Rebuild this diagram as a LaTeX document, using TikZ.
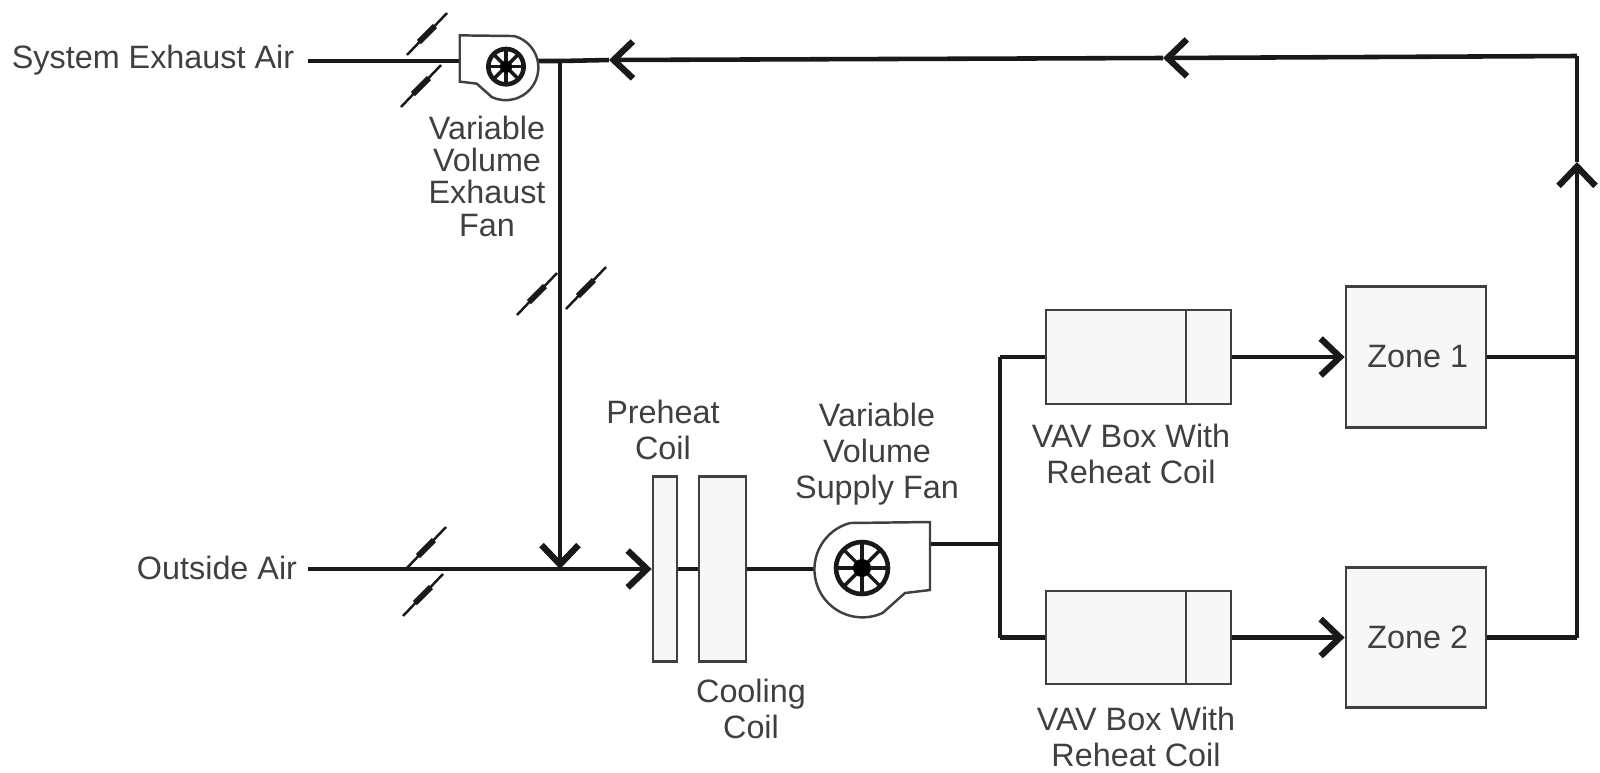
\documentclass[tikz,border=0pt]{standalone}
\usepackage{fontspec}
\setmainfont{Liberation Sans}
\usetikzlibrary{arrows.meta}
\tikzset{
    duct/.style={line width=1.3pt,black!90},
    flow/.style={duct,-{Straight Barb[length=5.5pt,width=10.5pt,line width=1.8pt]}},
    label/.style={font=\fontsize{9.2}{9.2}\selectfont,align=center,text=black!75,inner sep=0pt},
    unit/.style={draw=black!75,line width=0.8pt,fill=black!3,inner sep=0pt,label},
    pics/blade/.style={code={
        \draw[black!90,line width=0.7pt] (-20,21) -- (20,-21);
        \draw[black!90,line width=1.7pt] (-8,8) -- (8,-8);
    }},
    pics/fan/.style={code={
        \draw[black!75,line width=0.7pt,fill=white] (68,-48) -- (-12,-47) arc[start angle=255,end angle=65,radius=48] -- (43,23) -- (68,20) -- cycle;
        \draw[black!90,line width=1.3pt] (0,-2) circle (26);
        \foreach \a in {0,45,...,315}
            \draw[black!90,line width=1pt] (0,-2) -- ++(\a:26);
        \fill[black] (0,-2) circle (9);
    }},
}
\begin{document}
\begin{tikzpicture}[x=0.01cm,y=-0.01cm]
    \useasboundingbox (0,0) rectangle (1600,772);
    \coordinate (exhaustend) at (308,61);
    \coordinate (exhaustfanin) at (460,61);
    \coordinate (exhaustfanout) at (538,61);
    \coordinate (tee) at (560,61);
    \coordinate (returnarrow) at (609,60);
    \coordinate (topreturn) at (1163,58);
    \coordinate (corner) at (1577,56);
    \coordinate (riser) at (1577,162);
    \coordinate (zoneonejoin) at (1577,357);
    \coordinate (zonetwojoin) at (1577,637.5);
    \coordinate (outsideend) at (308,569);
    \coordinate (mixing) at (560,569);
    \coordinate (supplyfanin) at (814,569);
    \coordinate (supplyfanout) at (930,544);
    \coordinate (branch) at (1000,544);
    \coordinate (branchone) at (1000,357);
    \coordinate (branchtwo) at (1000,637.5);

    \node[unit,minimum width=24*0.01cm,minimum height=185*0.01cm] (preheat) at (665,569) {};
    \node[unit,minimum width=47*0.01cm,minimum height=185*0.01cm] (cooling) at (722.5,569) {};
    \node[unit,minimum width=185*0.01cm,minimum height=94*0.01cm] (vavone) at (1138.5,357) {};
    \node[unit,minimum width=185*0.01cm,minimum height=93*0.01cm] (vavtwo) at (1138.5,637.5) {};
    \node[unit,minimum width=140*0.01cm,minimum height=141*0.01cm] (zoneone) at (1416,357) {\hspace{1pt}Zone 1};
    \node[unit,minimum width=140*0.01cm,minimum height=140*0.01cm] (zonetwo) at (1416,637.5) {\hspace{1pt}Zone 2};
    \draw[black!75,line width=0.8pt] (1186,310) -- (1186,404);
    \draw[black!75,line width=0.8pt] (1186,591) -- (1186,684);

    \draw[duct] (exhaustend) -- (exhaustfanin);
    \draw[duct] (exhaustfanout) -- (tee) -- (returnarrow);
    \draw[flow] (topreturn) -- (returnarrow);
    \draw[flow] (corner) -- (topreturn);
    \draw[duct] (corner) -- (riser);
    \draw[flow] (zonetwojoin) -- (riser);
    \draw[flow] (tee) -- (mixing);
    \draw[flow] (outsideend) -- (preheat.west);
    \draw[duct] (preheat.east) -- (cooling.west);
    \draw[duct] (cooling.east) -- (supplyfanin);
    \draw[duct] (supplyfanout) -- (branch);
    \draw[duct] (branchone) -- (branchtwo);
    \draw[duct] (branchone) -- (vavone.west);
    \draw[duct] (branchtwo) -- (vavtwo.west);
    \draw[flow] (vavone.east) -- (zoneone.west);
    \draw[flow] (vavtwo.east) -- (zonetwo.west);
    \draw[duct] (zoneone.east) -- (zoneonejoin);
    \draw[duct] (zonetwo.east) -- (zonetwojoin);

    \pic[xscale=-0.68,yscale=0.68] at (506,68) {fan};
    \pic at (862,570) {fan};
    \foreach \p in {(427,34),(421,86),(537,294),(586,288),(426,548),(423,595)}
        \pic at \p {blade};

    \node[label] (exhaustair) at (153,60) {System Exhaust Air};
    \node[label] (outsideair) at (217,568) {Outside Air};
    \node[label] (exhaustfan) at (487,176) {Variable\\Volume\\Exhaust\\Fan};
    \node[label] (preheatcoil) at (663,430) {Preheat\\[1pt]Coil};
    \node[label] (coolingcoil) at (751,709) {Cooling\\[1pt]Coil};
    \node[label] (supplyfan) at (877,454) {Variable\\[1pt]Volume\\[1pt]Supply Fan};
    \node[label] (vavonelabel) at (1131,454) {VAV Box With\\[1pt]Reheat Coil};
    \node[label] (vavtwolabel) at (1136,737) {VAV Box With\\[1pt]Reheat Coil};
\end{tikzpicture}
\end{document}
